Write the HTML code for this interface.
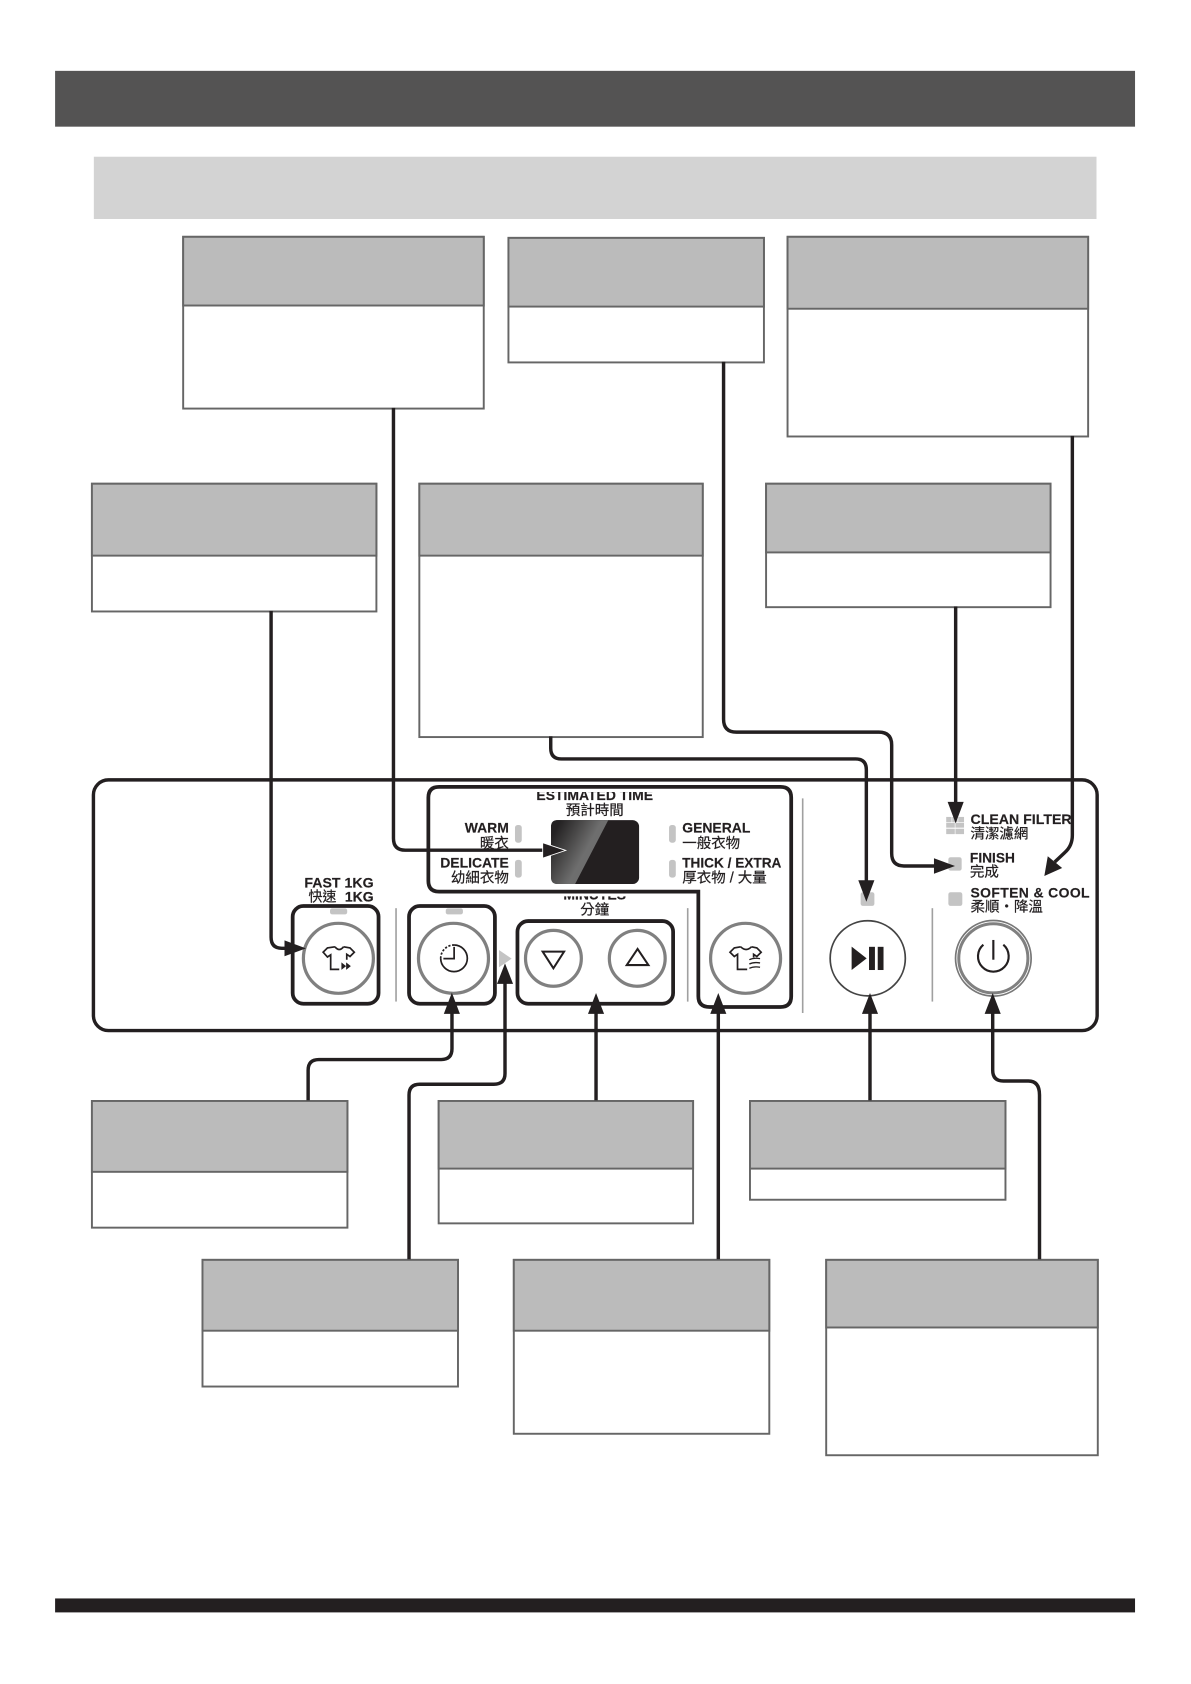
<!DOCTYPE html>
<html>
<head>
<meta charset="utf-8">
<style>
html,body{margin:0;padding:0;background:#fff;width:1191px;height:1684px;overflow:hidden}
svg{display:block}
text{font-family:"Liberation Sans","Noto Sans CJK TC",sans-serif;fill:#231f20}
.b{font-weight:700;font-size:13px;stroke:#231f20;stroke-width:.15}
.c{font-size:13.5px;stroke:#231f20;stroke-width:.2}
.box{fill:#fff;stroke:#666;stroke-width:1.8}
.hd{fill:#bbb;stroke:#666;stroke-width:1.8}
.grp{fill:none;stroke:#231f20;stroke-width:3.5}
.ln{fill:none;stroke:#231f20;stroke-width:3.2}
.sep{stroke:#a0a0a0;stroke-width:1.5}
.ind{fill:#c4c4c4}
.btn{fill:#fff;stroke:#808080;stroke-width:3}
.ico{fill:none;stroke:#231f20;stroke-width:1.6}
.ar{fill:#231f20}
</style>
</head>
<body>
<svg width="1191" height="1684" viewBox="0 0 1109.4 1568.7" xmlns="http://www.w3.org/2000/svg">
<defs>
<linearGradient id="g" gradientUnits="userSpaceOnUse" x1="518" y1="772" x2="548" y2="788">
<stop offset="0" stop-color="#242223"/><stop offset="0.5" stop-color="#484747"/><stop offset="1" stop-color="#6e6e6e"/>
</linearGradient>
<clipPath id="c1"><rect x="400" y="737.8" width="330" height="40"/></clipPath>
<clipPath id="c2"><rect x="500" y="835" width="110" height="30"/></clipPath>
</defs>
<rect width="1110" height="1569" fill="#fff"/>

<rect x="51.3" y="66" width="1006" height="52" fill="#545353"/>
<rect x="87.4" y="146" width="934" height="58" fill="#d3d3d3"/>
<rect x="51.3" y="1489" width="1006" height="13" fill="#231f20"/>

<!-- boxes -->
<g transform="translate(.6,.6)">
<rect class="box" x="170" y="220" width="280" height="160"/><rect class="hd" x="170" y="220" width="280" height="64"/>
<rect class="box" x="473" y="221" width="238" height="116"/><rect class="hd" x="473" y="221" width="238" height="64"/>
<rect class="box" x="733" y="220" width="280" height="186"/><rect class="hd" x="733" y="220" width="280" height="67"/>
<rect class="box" x="85" y="450" width="265" height="119"/><rect class="hd" x="85" y="450" width="265" height="67"/>
<rect class="box" x="390" y="450" width="264" height="236"/><rect class="hd" x="390" y="450" width="264" height="67"/>
<rect class="box" x="713" y="450" width="265" height="115"/><rect class="hd" x="713" y="450" width="265" height="64"/>
<rect class="box" x="85" y="1025" width="238" height="118"/><rect class="hd" x="85" y="1025" width="238" height="66"/>
<rect class="box" x="408" y="1025" width="237" height="114"/><rect class="hd" x="408" y="1025" width="237" height="63"/>
<rect class="box" x="698" y="1025" width="238" height="92"/><rect class="hd" x="698" y="1025" width="238" height="63"/>
<rect class="box" x="188" y="1173" width="238" height="118"/><rect class="hd" x="188" y="1173" width="238" height="66"/>
<rect class="box" x="478" y="1173" width="238" height="162"/><rect class="hd" x="478" y="1173" width="238" height="66"/>
<rect class="box" x="769" y="1173" width="253" height="182"/><rect class="hd" x="769" y="1173" width="253" height="63"/>
</g>

<!-- panel -->
<rect x="87" y="726.5" width="935" height="233.5" rx="14" fill="#fff" stroke="#231f20" stroke-width="3.2"/>

<!-- separators -->
<line class="sep" x1="368.9" y1="846" x2="368.9" y2="933"/>
<line class="sep" x1="640.6" y1="846" x2="640.6" y2="933"/>
<line class="sep" x1="747.7" y1="743.7" x2="747.7" y2="943.7"/>
<line class="sep" x1="868.5" y1="846" x2="868.5" y2="933"/>

<!-- group outlines -->
<rect class="grp" x="272.6" y="844" width="80" height="91" rx="10"/>
<rect class="grp" x="381" y="844" width="80" height="91" rx="10"/>
<rect class="grp" x="482" y="858" width="145" height="77" rx="10"/>
<path class="grp" d="M409,733H727Q737,733 737,743V928Q737,938 727,938H661Q650.5,938 650.5,928V830.6H409Q399,830.6 399,820.6V743Q399,733 409,733Z"/>

<!-- indicators -->
<rect class="ind" x="307.4" y="846.2" width="16" height="5.6" rx="2"/>
<rect class="ind" x="415.2" y="846.2" width="16" height="5.6" rx="2"/>
<rect class="ind" x="479.7" y="768.5" width="6.3" height="16.5" rx="2.5"/>
<rect class="ind" x="479.7" y="801" width="6.3" height="16.5" rx="2.5"/>
<rect class="ind" x="623.2" y="768.5" width="6.3" height="16.5" rx="2.5"/>
<rect class="ind" x="623.2" y="801" width="6.3" height="16.5" rx="2.5"/>
<rect class="ind" x="883.4" y="798.6" width="12.4" height="12.4" rx="2"/>
<rect class="ind" x="883.4" y="831.2" width="13" height="12.6" rx="2"/>
<rect class="ind" x="801.7" y="831.2" width="12.8" height="12.6" rx="2"/>
<g class="ind">
<rect x="881.4" y="761" width="5" height="5"/><rect x="887" y="761" width="5" height="5"/><rect x="892.6" y="761" width="5.4" height="5"/>
<rect x="881.4" y="766.6" width="8" height="4.4"/><rect x="890" y="766.6" width="8" height="4.4"/>
<rect x="881.4" y="772" width="8" height="5"/><rect x="890" y="772" width="8" height="5"/>
</g>
<polygon points="464.8,885 476.6,893 464.8,901" fill="#c4c4c4"/>

<!-- display -->
<rect x="513.3" y="764" width="82" height="59.5" rx="6" fill="#231f20"/>
<path d="M519.3,764H566.6L535.7,823.5H519.3Q513.3,823.5 513.3,817.5V770Q513.3,764 519.3,764Z" fill="url(#g)"/>

<!-- buttons -->
<circle class="btn" cx="315.2" cy="892.7" r="32.6"/>
<circle class="btn" cx="422.4" cy="892.7" r="32.6"/>
<circle class="btn" cx="515.5" cy="892.7" r="26"/>
<circle class="btn" cx="593.6" cy="892.7" r="26"/>
<circle class="btn" cx="694.5" cy="892.7" r="32.6"/>
<circle cx="808.3" cy="892.7" r="35" fill="#fff" stroke="#444" stroke-width="1.6"/>
<circle cx="925.3" cy="892.7" r="35.2" fill="#fff" stroke="#777" stroke-width="1.6"/>
<circle cx="925.3" cy="892.7" r="32.2" fill="none" stroke="#808080" stroke-width="2.8"/>

<!-- icons -->
<path class="ico" d="M312,882L305,883L301,887L305,891.5L308,889.5V903H316M320,882L326,883L330,887L326,891L323,889V894M312,882Q316,887 320,882"/>
<polygon class="ar" points="318,896.5 322.4,900 318,903.5"/><polygon class="ar" points="322.4,896.5 326.8,900 322.4,903.5"/>
<path class="ico" d="M423,880.3A12.4,12.4 0 1 1 410.5,892.7"/>
<path class="ico" stroke-dasharray="2 1.5" d="M410.5,892.7A12.4,12.4 0 0 1 423,880.3"/>
<path class="ico" d="M423,882V893H413"/>
<path d="M515.5,902L505.5,886.5H525.4Z M593.9,884L583.8,899H604Z" fill="#fff" stroke="#231f20" stroke-width="1.9" stroke-linejoin="miter"/>
<path class="ico" d="M690,882L684,883L680,887L684,891L687,889V903H696M700,882L705,883L709,887L705,891L702,889V892M690,882Q695,887 700,882"/>
<path d="M698,894Q702,892 708,893M698,898Q702,896 708,897M698,902Q702,900 708,901" fill="none" stroke="#231f20" stroke-width="1.2"/>
<polygon class="ar" points="793.3,881.8 807.3,892.7 793.3,903.6"/>
<rect class="ar" x="809.5" y="882" width="5.5" height="21.6"/><rect class="ar" x="817.6" y="882" width="5.4" height="21.6"/>
<path d="M916,880A14.3,14.3 0 1 0 934.6,880" fill="none" stroke="#231f20" stroke-width="2"/>
<line x1="925.3" y1="875.6" x2="925.3" y2="894" stroke="#231f20" stroke-width="2"/>

<!-- labels -->
<text class="b" x="348" y="826.6" text-anchor="end" style="font-size:13.2px">FAST 1KG</text>
<text x="348" y="840" text-anchor="end" style="font-size:13px;stroke:#231f20;stroke-width:.2"><tspan>快速</tspan><tspan font-weight="700" dx="8">1KG</tspan></text>
<g clip-path="url(#c1)"><text class="b" x="554" y="745" text-anchor="middle">ESTIMATED TIME</text></g>
<text class="c" x="554" y="759" text-anchor="middle">預計時間</text>
<g clip-path="url(#c2)"><text class="b" x="554" y="838" text-anchor="middle">MINUTES</text></g>
<text class="c" x="554" y="852" text-anchor="middle">分鐘</text>
<text class="b" x="474" y="775.7" text-anchor="end">WARM</text>
<text class="c" x="474" y="790" text-anchor="end">暖衣</text>
<text class="b" x="474" y="808" text-anchor="end">DELICATE</text>
<text class="c" x="474" y="822" text-anchor="end">幼細衣物</text>
<text class="b" x="635.5" y="775.7">GENERAL</text>
<text class="c" x="635.5" y="790">一般衣物</text>
<text class="b" x="635.5" y="808" style="font-size:12.7px">THICK / EXTRA</text>
<text class="c" x="635.5" y="822">厚衣物 / 大量</text>
<text class="b" x="904" y="767.6" style="font-size:13.2px">CLEAN FILTER</text>
<text class="c" x="904" y="781">清潔濾網</text>
<text class="b" x="903.5" y="803.6" style="font-size:12.8px">FINISH</text>
<text class="c" x="903.5" y="816.6">完成</text>
<text class="b" x="904" y="835.9" style="font-size:13px;letter-spacing:.35px">SOFTEN &amp; COOL</text>
<text class="c" x="904" y="849.2">柔順・降溫</text>

<!-- connectors -->
<path class="ln" d="M366.5,380V781Q366.5,792 377.5,792H510"/>
<polygon class="ar" stroke="#fff" stroke-width=".8" points="505.5,785 527,792.2 505.5,799.4"/>
<path class="ln" d="M252.5,569V873Q252.5,883.4 262.5,883.4H268"/>
<polygon class="ar" points="265,876 285,883.4 265,890.8"/>
<path class="ln" d="M674,337V670Q674,682 686,682H818.6Q830.6,682 830.6,694V795Q830.6,806.7 842,806.7H873"/>
<polygon class="ar" points="870,799.5 889.6,806.7 870,813.9"/>
<path class="ln" d="M513,686V697Q513,707 523,707H797Q807,707 807,717V822"/>
<polygon class="ar" points="799.5,820 807,840 814.5,820"/>
<path class="ln" d="M890.2,565V749"/>
<polygon class="ar" points="882.7,747 890.2,767 897.7,747"/>
<path class="ln" d="M998.9,406V778Q998.9,788 992,794L982.5,803"/>
<polygon class="ar" points="976,797.6 989.4,808.6 972.8,816"/>
<path class="ln" d="M287,1025V997Q287,987 297,987H411Q421,987 421,977V943"/>
<polygon class="ar" points="413.4,944.4 420.9,924.7 428.4,944.4"/>
<path class="ln" d="M381,1173V1020Q381,1010 391,1010H460Q470.4,1010 470.4,1000V915"/>
<polygon class="ar" points="462.9,916.5 470.4,897.4 477.9,916.5"/>
<path class="ln" d="M555.2,1025V943"/>
<polygon class="ar" points="547.7,944.4 555.2,925 562.7,944.4"/>
<path class="ln" d="M810.4,1025V943"/>
<polygon class="ar" points="802.9,944.4 810.4,925 817.9,944.4"/>
<path class="ln" d="M669.1,1173V943"/>
<polygon class="ar" points="661.6,944.4 669.1,925 676.6,944.4"/>
<path class="ln" d="M968.3,1173V1020Q968.3,1007 958,1007H934.7Q924.7,1007 924.7,997V943"/>
<polygon class="ar" points="917.2,944.4 924.7,925 932.2,944.4"/>
</svg>
</body>
</html>
